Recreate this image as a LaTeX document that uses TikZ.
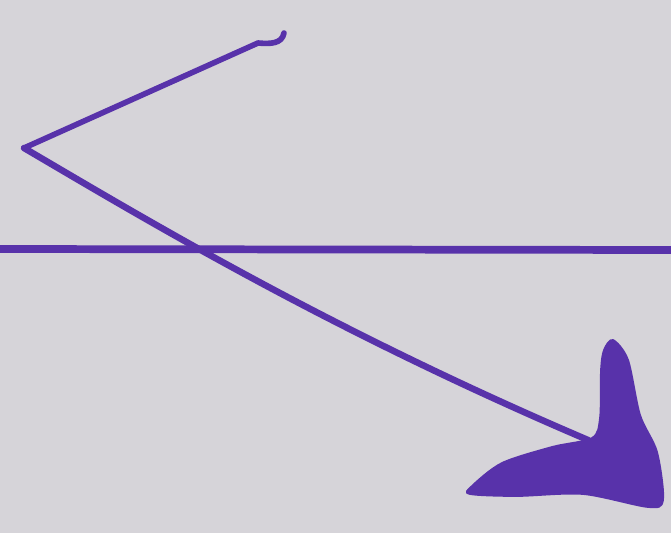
\documentclass[tikz,border=0pt]{standalone}
\usepackage{xcolor}
\usepackage{tikz}
\usetikzlibrary{calc}
\definecolor{ink}{RGB}{88,50,170}
\definecolor{paper}{RGB}{214,212,217}

\begin{document}
\begin{tikzpicture}[x=0.02cm, y=-0.02cm,
  pen/.style={draw=ink, line cap=round, line join=round},
  rule/.style={pen, line width=4.4pt},
  zig/.style={pen, line width=3.2pt},
  head/.style={fill=ink, draw=ink, line width=1pt}]
  % paper
  \fill[paper] (0,0) rectangle (671,533);
  \useasboundingbox (0,0) rectangle (671,533);
  % points of the sketch
  \coordinate (hook) at (284,33);
  \coordinate (bend) at (24,148);
  \coordinate (tip) at (588,440);
  % ruled line
  \coordinate (ruleL) at (0,249);
  \coordinate (ruleR) at (671,250);
  \draw[rule] (ruleL) -- (ruleR);
  % upper stroke with the small hook
  \draw[zig] (hook) .. controls (282,44) and (270,44) .. (258,43)
    -- (bend);
  % lower stroke down to the head
  \draw[zig, line width=3.7pt] (bend) .. controls (150,222) and (330,330) .. (tip);
  % arrow head
  \draw[head] plot[smooth cycle, tension=0.5] coordinates {
    (613,340) (628,360) (640,415) (657,452) (663,500) (648,507)
    (583,494) (517,496) (470,494) (472,486) (502,463) (552,447)
    (592,438) (600,418) (601,370) (604,350)};
\end{tikzpicture}
\end{document}
